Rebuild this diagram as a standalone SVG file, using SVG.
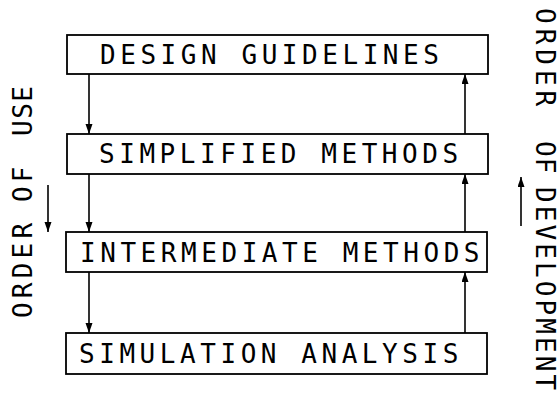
<svg xmlns="http://www.w3.org/2000/svg" width="559" height="398" viewBox="0 0 559 398">
<style>
.box{fill:#fff;stroke:#000;stroke-width:1.8}
.lbl{font-family:"DejaVu Sans Mono","Liberation Mono",monospace;font-size:26px;letter-spacing:4.55px;fill:#000}
.side{font-family:"DejaVu Sans Mono","Liberation Mono",monospace;font-size:26px;fill:#000}
.con{stroke:#000;stroke-width:1.6;fill:none}
</style>
<defs>
<marker id="ah" markerUnits="userSpaceOnUse" markerWidth="11" markerHeight="8" refX="10" refY="3.5" orient="auto">
<path d="M0,0 L10,3.5 L0,7 z" fill="#000"/>
</marker>
</defs>
<g id="connectors">
<line class="con" x1="89" y1="74" x2="89" y2="134" marker-end="url(#ah)"/>
<line class="con" x1="89" y1="174" x2="89" y2="232" marker-end="url(#ah)"/>
<line class="con" x1="89" y1="272" x2="89" y2="333" marker-end="url(#ah)"/>
<line class="con" x1="465" y1="134" x2="465" y2="74" marker-end="url(#ah)"/>
<line class="con" x1="465" y1="232" x2="465" y2="174" marker-end="url(#ah)"/>
<line class="con" x1="465" y1="333" x2="465" y2="272" marker-end="url(#ah)"/>
<line class="con" x1="48" y1="185" x2="48" y2="232" marker-end="url(#ah)"/>
<line class="con" x1="521" y1="226" x2="521" y2="177" marker-end="url(#ah)"/>
</g>
<g id="design-guidelines">
<rect class="box" x="67" y="35" width="421" height="39"/>
<text class="lbl" x="100" y="64">DESIGN GUIDELINES</text>
</g>
<g id="simplified-methods">
<rect class="box" x="67" y="134" width="421" height="40"/>
<text class="lbl" x="99" y="163">SIMPLIFIED METHODS</text>
</g>
<g id="intermediate-methods">
<rect class="box" x="66" y="232" width="421" height="40"/>
<text class="lbl" x="80" y="262">INTERMEDIATE METHODS</text>
</g>
<g id="simulation-analysis">
<rect class="box" x="66" y="333" width="421" height="41"/>
<text class="lbl" x="79" y="363">SIMULATION ANALYSIS</text>
</g>
<g id="order-of-use">
<text class="side" transform="translate(32,320) rotate(-90)"><tspan x="2" letter-spacing="4.2">ORDER</tspan><tspan x="118" letter-spacing="4.2">OF</tspan><tspan x="184" letter-spacing="1.5">USE</tspan></text>
</g>
<g id="order-of-development">
<text class="side" transform="translate(536,0) rotate(90)"><tspan x="8" letter-spacing="5">ORDER</tspan><tspan x="141" letter-spacing="1">OF</tspan><tspan x="187" letter-spacing="3.1">DEVELOPMENT</tspan></text>
</g>
</svg>
